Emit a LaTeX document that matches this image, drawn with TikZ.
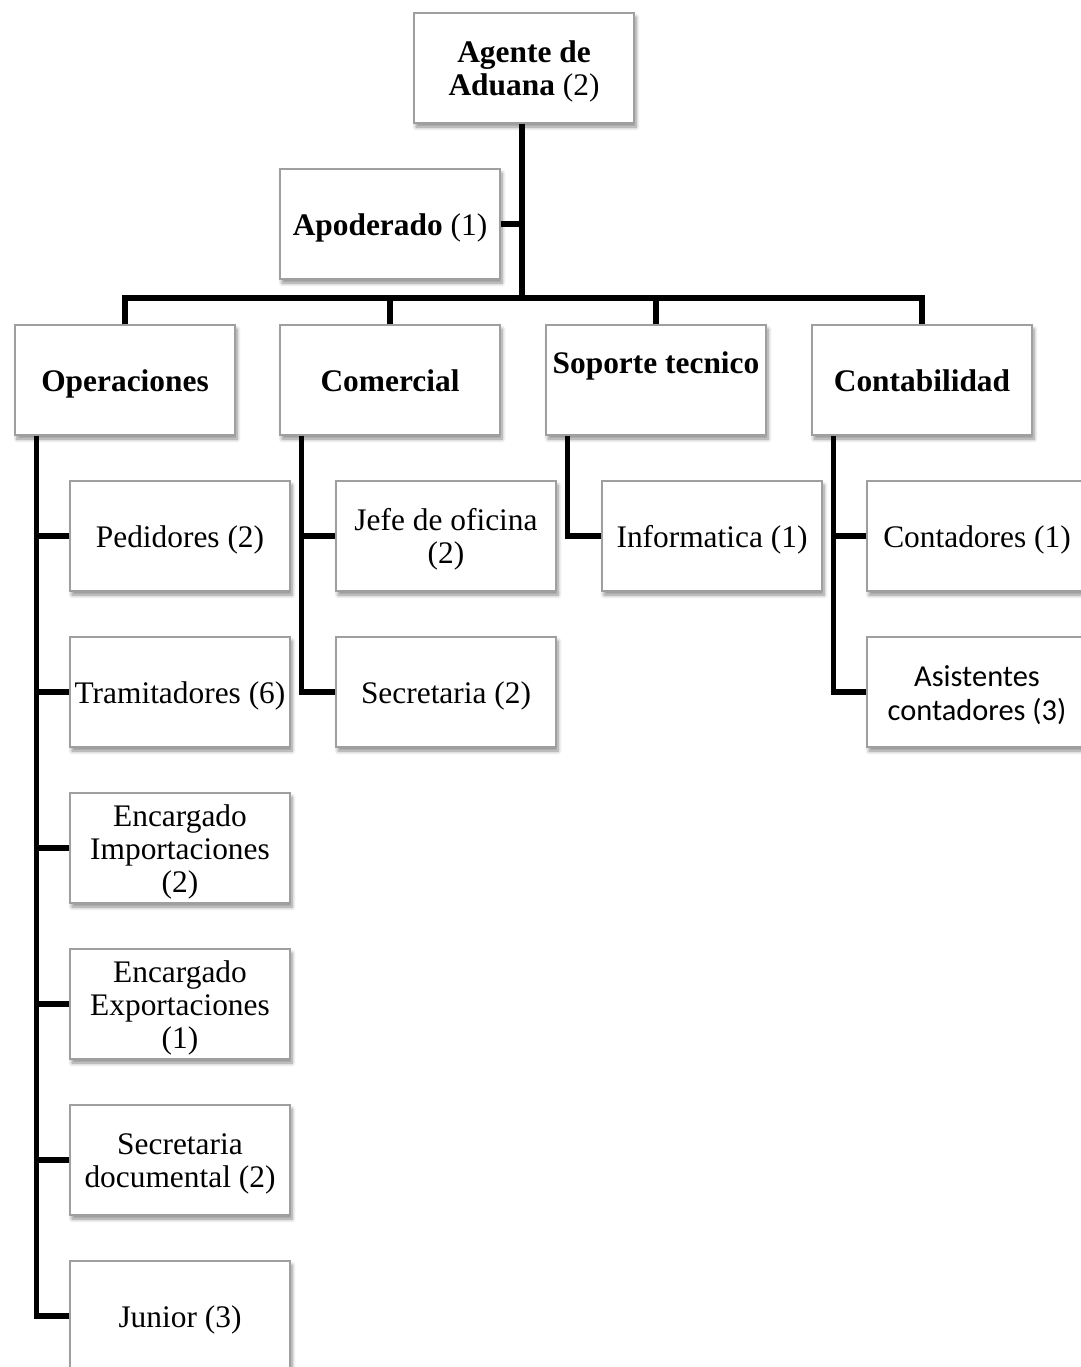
\documentclass[tikz,border=0pt]{standalone}
\usepackage{fontspec}
\setmainfont{Liberation Serif}
\newfontfamily\calib{Carlito}
\usetikzlibrary{shadows.blur}
\newcommand{\TT}[1]{\raisebox{-6pt}[0pt][0pt]{\begin{tabular}{@{}c@{}}#1\end{tabular}}}
\begin{document}
\begin{tikzpicture}[x=0.5pt,y=-0.5pt,
  box/.style={draw=gray!75, line width=0.6pt, fill=white, minimum width=110pt, minimum height=55pt,
    inner sep=0pt, align=center, font=\fontsize{15.7pt}{16.5pt}\selectfont,
    blur shadow={shadow xshift=1pt, shadow yshift=-2pt, shadow blur steps=6, shadow blur extra rounding=0pt, shadow opacity=45}},
  conn/.style={line width=2.7pt, black, line join=miter}]
\useasboundingbox (0,0) rectangle (1081,1367);
\begin{scope}
\clip (0,0) rectangle (1081,1367);
% top
\node[box] (agente) at (524,68) {\TT{\textbf{Agente de}\\\textbf{Aduana} (2)}};
\node[box] (apod) at (390,224) {\TT{\textbf{Apoderado} (1)}};
% level 1
\node[box] (ops) at (125,380) {\TT{\textbf{Operaciones}}};
\node[box] (com) at (390,380) {\TT{\textbf{Comercial}}};
\node[box] (sop) at (656,380) {};
\node[inner sep=0pt] (soptxt) at (656,362) {\fontsize{15.7pt}{16.5pt}\selectfont\TT{\textbf{Soporte tecnico}}};
\node[box] (cont) at (922,380) {\TT{\textbf{Contabilidad}}};
% operaciones children
\node[box] (ped) at (180,536) {\TT{Pedidores (2)}};
\node[box] (tra) at (180,692) {\TT{Tramitadores (6)}};
\node[box] (imp) at (180,848) {\TT{Encargado\\Importaciones\\(2)}};
\node[box] (exp) at (180,1004) {\TT{Encargado\\Exportaciones\\(1)}};
\node[box] (sec) at (180,1160) {\TT{Secretaria\\documental (2)}};
\node[box] (jun) at (180,1316) {\TT{Junior (3)}};
% comercial children
\node[box] (jefe) at (446,536) {\TT{Jefe de oficina\\(2)}};
\node[box] (secc) at (446,692) {\TT{Secretaria (2)}};
% soporte
\node[box] (inf) at (712,536) {\TT{Informatica (1)}};
% contabilidad
\node[box] (ctd) at (977,536) {\TT{Contadores (1)}};
\node[box, font=\calib\fontsize{15.2pt}{17pt}\selectfont] (asi) at (977,692) {\TT{Asistentes\\contadores (3)}};
% connectors
\coordinate (bus) at (522,298);
\draw[conn] (agente.south -| bus) -- (bus);
\draw[conn] (apod.east) -- (apod.east -| bus);
\draw[conn] (ops.north) |- (bus) -| (cont.north);
\draw[conn] (com.north) -- (com.north |- bus);
\draw[conn] (sop.north) -- (sop.north |- bus);
\coordinate (opsl) at ([xshift=11pt]ops.south west);
\draw[conn] (opsl) |- (jun.west);
\foreach \c in {ped,tra,imp,exp,sec} \draw[conn] (\c.west) -- (\c.west -| opsl);
\coordinate (coml) at ([xshift=11pt]com.south west);
\draw[conn] (coml) |- (secc.west);
\draw[conn] (jefe.west) -- (jefe.west -| coml);
\coordinate (sopl) at ([xshift=11pt]sop.south west);
\draw[conn] (sopl) |- (inf.west);
\coordinate (contl) at ([xshift=11pt]cont.south west);
\draw[conn] (contl) |- (asi.west);
\draw[conn] (ctd.west) -- (ctd.west -| contl);
\end{scope}
\end{tikzpicture}
\end{document}
